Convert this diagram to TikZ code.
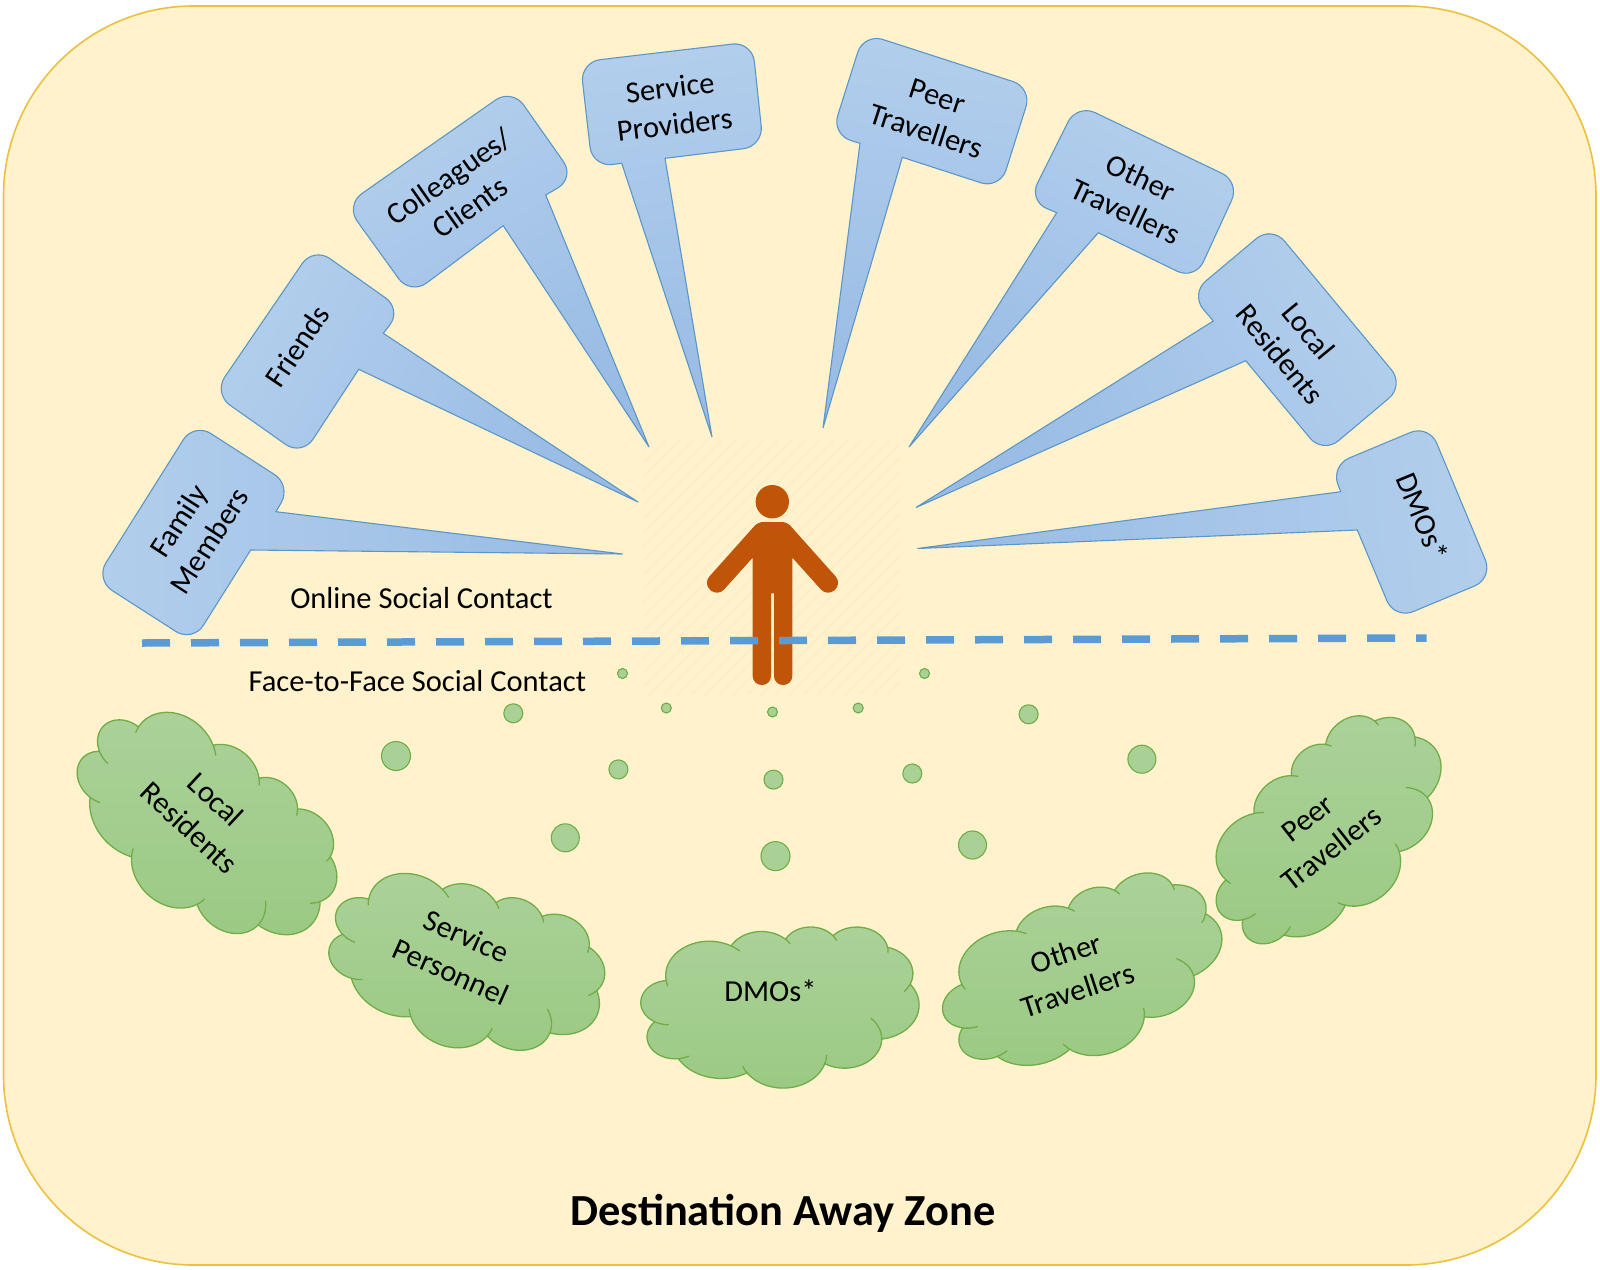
\documentclass[tikz,border=0pt]{standalone}
\usepackage{fontspec}
\setmainfont{Carlito}
\definecolor{bgfill}{HTML}{FFF2CC}
\definecolor{bgline}{HTML}{EBC13D}
\definecolor{calloutA}{HTML}{B2CEEC}
\definecolor{calloutB}{HTML}{98BBE4}
\definecolor{calloutLine}{HTML}{5B96C8}
\definecolor{cloudA}{HTML}{ABD199}
\definecolor{cloudB}{HTML}{9BCA84}
\definecolor{cloudLine}{HTML}{70AD47}
\definecolor{dotFill}{HTML}{A9D196}
\definecolor{personC}{HTML}{C0550A}
\definecolor{dashC}{HTML}{5B9BD5}
\definecolor{stripeC}{HTML}{FDEEC8}
% --- cloud outline in a 43.2 x 43.2 box ---
\def\cloudX{3.9}\def\cloudY{14.37}
\xdef\cloudpath{(3.9,14.37)}
\gdef\cloudstubs{}
\newcommand\cloudseg[6]{% cx cy wR hR t0 t1
  \pgfmathsetmacro\sa{#5}\pgfmathsetmacro\sb{#6}
  \pgfmathsetmacro\spx{#1+#3*cos(\sa)}\pgfmathsetmacro\spy{#2+#4*sin(\sa)}
  \xdef\cloudstubs{\cloudstubs (\spx,\spy)}
  \foreach \i in {1,...,8}{%
    \pgfmathsetmacro\st{\sa+(\sb-\sa)*\i/8}
    \pgfmathsetmacro\spx{#1+#3*cos(\st)}\pgfmathsetmacro\spy{#2+#4*sin(\st)}
    \xdef\cloudstubs{\cloudstubs -- (\spx,\spy)}
  }%
}
\newcommand\cloudarc[6]{% wR hR st sw extBefore extAfter
  \pgfmathsetmacro\tA{atan2(#1*sin(#3),#2*cos(#3))}
  \pgfmathsetmacro\aE{#3+#4}
  \pgfmathsetmacro\tB{atan2(#1*sin(\aE),#2*cos(\aE))}
  \pgfmathsetmacro\tB{\tB+360*ceil((\tA-\tB)/360)}
  \pgfmathsetmacro\cX{\cloudX-#1*cos(\tA)}
  \pgfmathsetmacro\cY{\cloudY-#2*sin(\tA)}
  \foreach \i in {1,...,24}{%
    \pgfmathsetmacro\tt{\tA+(\tB-\tA)*\i/24}
    \pgfmathsetmacro\px{\cX+#1*cos(\tt)}
    \pgfmathsetmacro\py{\cY+#2*sin(\tt)}
    \xdef\cloudpath{\cloudpath -- (\px,\py)}
  }%
  \pgfmathsetmacro\nX{\cX+#1*cos(\tB)}
  \pgfmathsetmacro\nY{\cY+#2*sin(\tB)}
  \xdef\cloudX{\nX}\xdef\cloudY{\nY}
  \ifdim #5pt>0pt \cloudseg{\cX}{\cY}{#1}{#2}{\tA-#5}{\tA}\fi
  \ifdim #6pt>0pt \cloudseg{\cX}{\cY}{#1}{#2}{\tB}{\tB+#6}\fi
}
\cloudarc{6.753}{9.190}{-190.4875}{123.7805}{10}{14}
\cloudarc{5.333}{7.267}{-144.1024}{89.9452}{0}{12}
\cloudarc{4.365}{5.945}{-145.8079}{99.7230}{0}{14}
\cloudarc{4.857}{6.595}{-130.9861}{117.2417}{0}{12}
\cloudarc{5.333}{7.273}{-78.7089}{109.0269}{0}{18}
\cloudarc{6.775}{9.220}{-46.2673}{130.2690}{0}{0}
\cloudarc{5.785}{7.867}{0.6250}{114.0333}{45}{0}
\cloudarc{6.752}{9.215}{22.4516}{115.1726}{14}{12}
\cloudarc{7.720}{10.543}{66.2426}{75.7110}{0}{0}
\cloudarc{4.360}{5.918}{-274.9421}{146.7356}{22}{0}
\cloudarc{4.345}{5.945}{-246.8285}{152.5189}{30}{0}
\tikzset{
  lbl/.style={font=\fontsize{30.5}{37}\selectfont,align=center,inner sep=0pt,text=black},
  cloudlbl/.style={font=\fontsize{30.5}{39}\selectfont,align=center,inner sep=0pt,text=black},
  bgzone/.style={fill=bgfill,draw=bgline,line width=1.6pt,rounded corners=190pt},
  calloutshape/.style={draw=calloutLine,line width=1.1pt,line join=miter,top color=calloutA,bottom color=calloutB},
  cloudshape/.style={draw=cloudLine,line width=1.3pt,line join=round,top color=cloudA,bottom color=cloudB},
  cloudinner/.style={draw=cloudLine,line width=1.3pt,line cap=round},
  dotshape/.style={draw=cloudLine,fill=dotFill,line width=1.1pt},
  personshape/.style={fill=personC},
  stripeline/.style={draw=stripeC,line width=2.6pt},
  splitline/.style={draw=dashC,line width=7.5pt,dash pattern=on 28pt off 21pt},
}
\newcommand\callout[8]{% angle, base2, c1,c2,c3,c4, base1, tip
  \path[calloutshape,shading angle=#1] (#2) [rounded corners=20pt] -- (#3) -- (#4) -- (#5) -- (#6) [sharp corners] -- (#7) -- (#8) -- cycle;
}
\newcommand\cloudat[5]{% cx cy w h rot
  \begin{scope}[shift={(#1,#2)},rotate=-#5,xscale=#3/43.2,yscale=#4/43.2,shift={(-21.6,-21.6)}]
    \path[cloudshape] \cloudpath -- cycle;
    \path[cloudinner] \cloudstubs;
  \end{scope}
}
\begin{document}
\begin{tikzpicture}[x=1pt,y=-1pt]
\useasboundingbox (0,0) rectangle (1600,1269);
\fill[white] (0,0) rectangle (1600,1269);
\path[bgzone] (3.5,6) rectangle (1596,1265);
% striped square behind the person
\begin{scope}
  \clip (643,440) rectangle (900,695);
  \foreach \k in {-260,-246,...,260}
    \draw[stripeline] ({643+\k},695) -- ({643+\k+255},440);
\end{scope}
% person
\fill[personshape] (772.3,501.7) circle (16.7);
\fill[personshape] (772.5,522) [rounded corners=5pt] -- (787,522) [rounded corners=9.5pt] -- (842,583.6) -- (827.3,596.6) [sharp corners] -- (792.3,557.6) [rounded corners=8.9pt] -- (792.3,685) -- (774,685) [sharp corners] -- (774,593.3) -- (771,593.3) [rounded corners=8.9pt] -- (771,685) -- (752.7,685) [sharp corners] -- (752.7,557.6) [rounded corners=9.5pt] -- (717.7,596.6) -- (703,583.6) [rounded corners=5pt] -- (758,522) [sharp corners] -- cycle;
% callouts
\callout{90}{250.7,550}{192.7,642.3}{95.3,579.7}{194,422.7}{291.3,485.3}{276,511.7}{622.5,554}
\callout{60}{358.7,369.3}{302,456}{213.5,393.5}{313.5,247}{402,309.5}{383.3,333.3}{638,502}
\callout{30}{503.3,225.7}{410.5,295}{345.5,205}{512,88.5}{575,178}{545.7,195}{649,447}
\callout{8}{621.7,163.3}{592.3,167}{580.3,62}{752.3,41.7}{763.3,146.3}{665,158.3}{712,437}
\callout{-8}{902.3,157.3}{1000,189}{1032,87.7}{863.7,33.3}{831.7,134.7}{860,143.3}{823,428}
\callout{-30}{1098.3,232.7}{1195,280}{1240,182}{1077,104}{1028.5,201}{1056.7,212.7}{909,447}
\callout{-60}{1245.7,360.7}{1323,453.7}{1404.3,385.3}{1271.7,225.7}{1190.3,294}{1213.3,321}{916,507.5}
\callout{-85}{1357.3,530}{1394.7,619.3}{1493,578.3}{1429,424.7}{1330.7,465.7}{1340.7,491.7}{917.5,548.5}
\node[lbl,rotate=57] (family) at (193.7,530.7) {Family\\Members};
\node[lbl,rotate=56] (friends) at (297.3,346) {Friends};
\node[lbl,rotate=35] (colleagues) at (459.3,191.7) {Colleagues/\\Clients};
\node[lbl,rotate=7] (providers) at (672.3,106) {Service\\Providers};
\node[lbl,rotate=-18] (peerT) at (931.7,114) {Peer\\Travellers};
\node[lbl,rotate=-25] (otherT) at (1133.3,194.5) {Other\\Travellers};
\node[lbl,rotate=-50.5] (localR) at (1294.3,342.5) {Local\\Residents};
\node[lbl,rotate=-67.5] (dmoOn) at (1422.7,516.7) {DMOs*};
\node[lbl] (online) at (421.5,598) {Online Social Contact};
\node[lbl] (f2f) at (417.3,681) {Face-to-Face Social Contact};
% dividing line
\coordinate (dashL) at (142,643);
\coordinate (dashR) at (1426.5,638);
\draw[splitline] (dashL) -- (dashR);
% dots
\foreach \x/\y/\r in {622.5/673.5/5,513.3/713.3/9.5,666.3/708/5,772.5/712/5,858.2/708/5,924.5/673.5/5,1028.6/714.3/9.5,396/756/14.5,618.4/769.4/9.5,773.5/779.6/9.5,912.3/773.5/9.5,1141.9/759.2/14,565.3/837.8/14,775.5/856.1/14.5,972.5/845/14}
  \path[dotshape] (\x,\y) circle (\r);
% clouds
\cloudat{205}{828}{287}{174}{43}
\cloudat{466}{965.5}{280}{165}{21}
\cloudat{780}{1007}{278}{161}{0}
\cloudat{1083}{975.5}{289}{163}{-17}
\cloudat{1329.5}{833}{270}{163}{-38}
\node[cloudlbl,rotate=-43] (cLocal) at (202.7,813.5) {Local\\Residents};
\node[cloudlbl,rotate=-24] (cService) at (458.6,954) {Service\\Personnel};
\node[cloudlbl] (cDmo) at (770.4,990.8) {DMOs*};
\node[cloudlbl,rotate=18] (cOtherT) at (1072,971.5) {Other\\Travellers};
\node[cloudlbl,rotate=38] (cPeer) at (1319.5,833.5) {Peer\\Travellers};
\node[inner sep=0pt,font=\fontsize{44.4}{50}\selectfont\bfseries] (title) at (783,1213) {Destination Away Zone};
\end{tikzpicture}
\end{document}
